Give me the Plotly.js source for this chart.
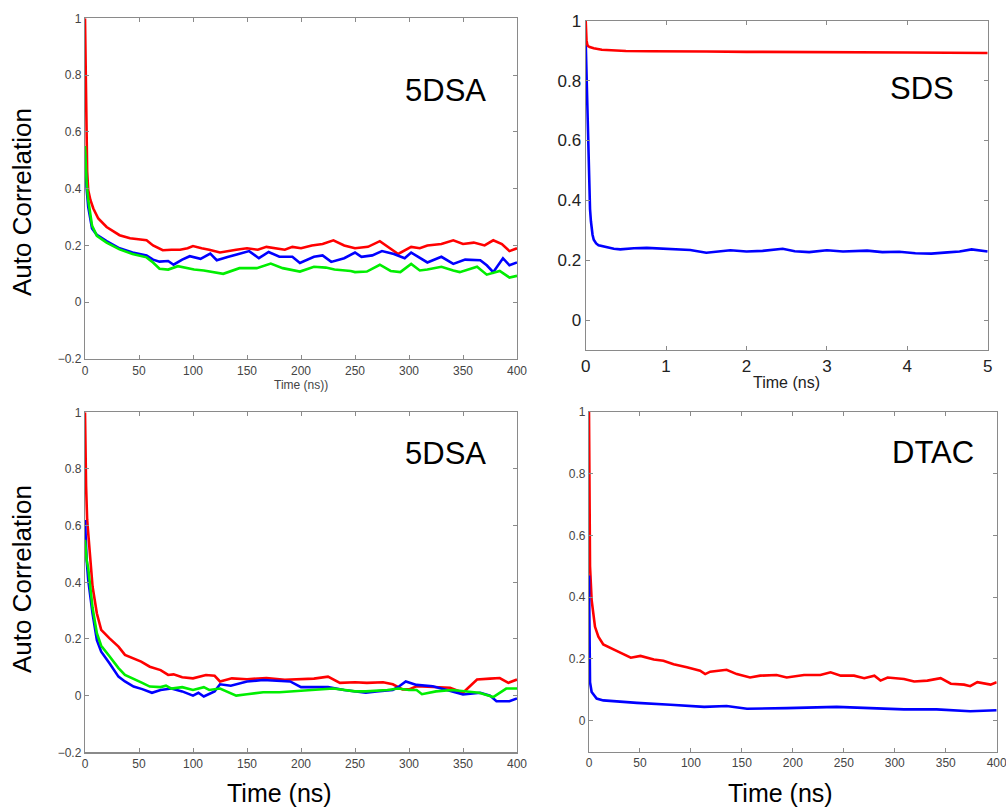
<!DOCTYPE html>
<html>
<head>
<meta charset="utf-8">
<script src="https://cdn.plot.ly/plotly-3.0.1.min.js"></script>
<style>html,body{margin:0;padding:0;background:#fff;}#chart{width:1006px;height:810px;}</style>
</head>
<body>
<div id="chart"></div>
<script>
// ---------- Panel A: 5DSA (top-left), time in ns ----------
const tlRedT = [0,0.5,1,2,3,5,7.7,12.3,20,26,32,41.7,50,57,63,72,80,88,95,100,108,115,125,132,140,150,160,168,175,185,192,200,210,220,230,240,250,262,273,282,290,302,310,317,330,341,350,360,370,378,386,393,400];
const tlRedV = [1.0,0.80,0.62,0.46,0.394,0.36,0.33,0.295,0.265,0.25,0.236,0.225,0.22,0.218,0.20,0.183,0.185,0.185,0.19,0.198,0.19,0.185,0.175,0.18,0.185,0.19,0.185,0.195,0.19,0.185,0.195,0.19,0.2,0.205,0.218,0.2,0.19,0.195,0.215,0.19,0.17,0.195,0.19,0.2,0.205,0.218,0.205,0.21,0.2,0.218,0.205,0.18,0.19];

const tlBlueT = [0,0.5,1.5,3,6.5,11,20,32,44,57,63,69,77,82,90,97,107,116,122,132,143,152,161,170,180,192,199,212,220,228,240,250,256,266,275,286,296,302,317,330,341,352,366,372,378,387,393,400];
const tlBlueV = [0.52,0.47,0.40,0.335,0.26,0.237,0.215,0.19,0.175,0.165,0.15,0.143,0.145,0.132,0.15,0.162,0.153,0.171,0.148,0.159,0.171,0.18,0.155,0.177,0.16,0.16,0.138,0.16,0.165,0.142,0.155,0.175,0.16,0.165,0.18,0.17,0.155,0.175,0.14,0.16,0.135,0.15,0.148,0.13,0.106,0.155,0.13,0.14];

const tlGreenT = [0,0.5,1.5,3,6.5,11,20,32,44,57,63,69,77,86,101,110,119,128,143,159,172,183,199,212,223,231,246,250,261,273,283,292,302,310,317,330,341,347,363,372,384,393,400];
const tlGreenV = [0.55,0.50,0.42,0.36,0.27,0.234,0.21,0.186,0.17,0.158,0.14,0.118,0.115,0.127,0.115,0.112,0.106,0.1,0.12,0.12,0.136,0.12,0.108,0.125,0.122,0.115,0.11,0.106,0.108,0.132,0.11,0.106,0.135,0.112,0.115,0.125,0.112,0.106,0.125,0.097,0.11,0.087,0.093];

// ---------- Panel B: SDS (top-right), time in ns ----------
const trRedT = [0,0.005,0.01,0.02,0.03,0.05,0.1,0.2,0.3,0.5,0.8,1,1.5,2,2.5,3,3.5,4,4.5,5];
const trRedV = [1.0,0.96,0.935,0.92,0.915,0.912,0.908,0.903,0.901,0.899,0.898,0.897,0.897,0.896,0.896,0.895,0.895,0.894,0.893,0.892];

const trBlueT = [0,0.005,0.01,0.02,0.03,0.04,0.054,0.065,0.075,0.085,0.1,0.13,0.16,0.22,0.35,0.43,0.6,0.76,0.95,1.17,1.3,1.5,1.65,1.8,2.0,2.2,2.45,2.6,2.78,3.0,3.2,3.5,3.69,3.9,4.1,4.3,4.5,4.65,4.8,4.9,5.0];
const trBlueV = [0.93,0.88,0.80,0.66,0.58,0.513,0.37,0.33,0.305,0.285,0.268,0.256,0.25,0.246,0.238,0.236,0.24,0.241,0.238,0.236,0.234,0.225,0.228,0.233,0.229,0.231,0.238,0.23,0.227,0.233,0.229,0.232,0.227,0.228,0.223,0.222,0.226,0.229,0.236,0.233,0.229];

// ---------- Panel C: 5DSA (bottom-left), time in ns ----------
const blRedT = [0,0.5,1,2,3,5,7,11,15,22.5,31,37,45,52,60,70,77,82,90,100,112,120,125,136,150,168,185,199,212,225,236,250,261,276,285,294,300,307,322,338,350,363,375,384,392,400];
const blRedV = [1.0,0.85,0.74,0.62,0.574,0.46,0.385,0.29,0.232,0.203,0.173,0.144,0.132,0.12,0.102,0.09,0.073,0.075,0.065,0.061,0.073,0.07,0.05,0.061,0.058,0.062,0.056,0.057,0.06,0.067,0.045,0.047,0.045,0.047,0.04,0.022,0.022,0.033,0.03,0.028,0.01,0.057,0.06,0.062,0.045,0.057];

const blBlueT = [0,0.5,1.5,3,7,11,15,22.5,31,37,45,53,62,70,80,90,100,105,110,120,125,135,140,150,165,190,200,215,225,240,250,260,270,285,291,297,307,322,335,350,366,375,381,393,400];
const blBlueV = [0.62,0.56,0.48,0.408,0.29,0.196,0.155,0.115,0.067,0.05,0.032,0.023,0.01,0.02,0.025,0.015,0.0,0.01,-0.003,0.015,0.04,0.035,0.04,0.05,0.055,0.05,0.03,0.03,0.03,0.02,0.015,0.01,0.015,0.02,0.033,0.05,0.038,0.033,0.02,0.004,0.01,0.0,-0.02,-0.02,-0.01];

const blGreenT = [0,0.5,1.5,3,7,11,15,22.5,31,37,45,53,60,70,75,80,90,100,110,115,125,135,140,150,165,180,200,215,230,250,260,280,290,300,307,312,325,340,350,365,378,390,400];
const blGreenV = [0.55,0.52,0.48,0.45,0.31,0.22,0.176,0.14,0.097,0.073,0.06,0.045,0.032,0.03,0.035,0.025,0.03,0.02,0.03,0.02,0.025,0.01,0.0,0.005,0.012,0.012,0.018,0.02,0.025,0.015,0.015,0.02,0.025,0.02,0.02,0.005,0.015,0.02,0.015,0.01,-0.005,0.025,0.025];

// ---------- Panel D: DTAC (bottom-right), time in ns ----------
const brRedT = [0,0.3,1,2.6,5.9,9.2,14,24,31,41,50.5,63.6,73,83,96,109,114,119,135,145,158,168,184,194,211,227,237,247,260,270,280,286,293,309,319,332,345,355,368,374,381,394,400];
const brRedV = [1.0,0.7,0.5,0.39,0.304,0.272,0.247,0.231,0.22,0.204,0.21,0.198,0.194,0.183,0.173,0.162,0.151,0.159,0.165,0.151,0.14,0.146,0.148,0.14,0.148,0.148,0.157,0.146,0.146,0.138,0.146,0.13,0.14,0.135,0.127,0.13,0.138,0.12,0.117,0.112,0.125,0.117,0.125];

const brBlueT = [0,0.3,1,2.6,7.5,14,31,47,80,113,135,155,194,243,276,309,341,374,400];
const brBlueV = [0.47,0.3,0.125,0.093,0.072,0.066,0.061,0.058,0.052,0.045,0.048,0.039,0.041,0.045,0.041,0.037,0.037,0.031,0.034];

// ---------- text ----------
const panelLabels = ["5DSA", "SDS", "5DSA", "DTAC"];
const yTitle = "Auto Correlation";
const xTitleTL = "Time (ns))";
const xTitle = "Time (ns)";

const RED = "#ff0000", BLUE = "#0000ff", GREEN = "#00ee00";
const W = 1006, H = 810;
const px = v => v / W;
const py = v => 1 - v / H;

function line(x, y, color, xa, ya) {
  return {x: x, y: y, type: "scatter", mode: "lines", xaxis: xa, yaxis: ya,
          line: {color: color, width: 2.6}, hoverinfo: "skip", showlegend: false};
}

const traces = [
  line(tlRedT, tlRedV, RED, "x", "y"),
  line(tlBlueT, tlBlueV, BLUE, "x", "y"),
  line(tlGreenT, tlGreenV, GREEN, "x", "y"),
  line(trBlueT, trBlueV, BLUE, "x2", "y2"),
  line(trRedT, trRedV, RED, "x2", "y2"),
  line(blRedT, blRedV, RED, "x3", "y3"),
  line(blBlueT, blBlueV, BLUE, "x3", "y3"),
  line(blGreenT, blGreenV, GREEN, "x3", "y3"),
  line(brRedT, brRedV, RED, "x4", "y4"),
  line(brBlueT, brBlueV, BLUE, "x4", "y4")
];

const FONT = "Liberation Sans, Arial, Helvetica, sans-serif";
function ax(domain, range, dtick, tick0, fsize, color, anchor) {
  return {domain: domain, range: range, dtick: dtick, tick0: tick0, anchor: anchor,
          showline: true, linecolor: "#8a8a8a", linewidth: 1.2, mirror: "ticks",
          ticks: "inside", ticklen: 4, tickcolor: "#8a8a8a", tickwidth: 1,
          showgrid: false, zeroline: false, fixedrange: true,
          ticklabeloverflow: "allow",
          tickfont: {family: FONT, size: fsize, color: color}};
}

const layout = {
  width: W, height: H,
  margin: {l: 0, r: 0, t: 0, b: 0},
  paper_bgcolor: "#fff", plot_bgcolor: "#fff",
  showlegend: false,
  xaxis:  ax([px(85), px(517)], [0, 400], 50, 0, 12, "#444", "y"),
  yaxis:  ax([py(359), py(18.3)], [-0.2, 1], 0.2, 0, 12, "#444", "x"),
  xaxis2: ax([px(585.7), px(987.7)], [0, 5], 1, 0, 17, "#222", "y2"),
  yaxis2: ax([py(350), py(20.7)], [-0.1, 1], 0.2, 0, 17, "#222", "x2"),
  xaxis3: ax([px(85), px(517)], [0, 400], 50, 0, 12, "#444", "y3"),
  yaxis3: ax([py(752.3), py(412.3)], [-0.2, 1], 0.2, 0, 12, "#444", "x3"),
  xaxis4: ax([px(589), px(996.7)], [0, 400], 50, 0, 12, "#444", "y4"),
  yaxis4: ax([py(751.7), py(411.7)], [-0.1, 1], 0.2, 0, 12, "#444", "x4"),
  annotations: [
    {text: panelLabels[0], x: px(488), y: py(90), xref: "paper", yref: "paper", xanchor: "right", yanchor: "middle", showarrow: false, font: {family: FONT, size: 31, color: "#000"}},
    {text: panelLabels[1], x: px(956), y: py(89), xref: "paper", yref: "paper", xanchor: "right", yanchor: "middle", showarrow: false, font: {family: FONT, size: 31, color: "#000"}},
    {text: panelLabels[2], x: px(488), y: py(453), xref: "paper", yref: "paper", xanchor: "right", yanchor: "middle", showarrow: false, font: {family: FONT, size: 31, color: "#000"}},
    {text: panelLabels[3], x: px(976), y: py(452), xref: "paper", yref: "paper", xanchor: "right", yanchor: "middle", showarrow: false, font: {family: FONT, size: 31, color: "#000"}},
    {text: yTitle, x: px(22), y: py(202), xref: "paper", yref: "paper", xanchor: "center", yanchor: "middle", textangle: -90, showarrow: false, font: {family: FONT, size: 26, color: "#000"}},
    {text: yTitle, x: px(22), y: py(579), xref: "paper", yref: "paper", xanchor: "center", yanchor: "middle", textangle: -90, showarrow: false, font: {family: FONT, size: 26, color: "#000"}},
    {text: xTitleTL, x: px(301), y: py(385), xref: "paper", yref: "paper", xanchor: "center", yanchor: "middle", showarrow: false, font: {family: FONT, size: 12, color: "#444"}},
    {text: xTitle, x: px(786.7), y: py(382), xref: "paper", yref: "paper", xanchor: "center", yanchor: "middle", showarrow: false, font: {family: FONT, size: 16, color: "#222"}},
    {text: xTitle, x: px(279.5), y: py(793), xref: "paper", yref: "paper", xanchor: "center", yanchor: "middle", showarrow: false, font: {family: FONT, size: 25, color: "#000"}},
    {text: xTitle, x: px(780), y: py(793), xref: "paper", yref: "paper", xanchor: "center", yanchor: "middle", showarrow: false, font: {family: FONT, size: 25, color: "#000"}}
  ]
};

Plotly.newPlot("chart", traces, layout, {displayModeBar: false, staticPlot: true});
</script>
</body>
</html>
